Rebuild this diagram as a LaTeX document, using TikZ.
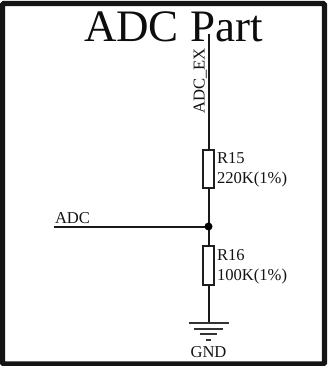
\documentclass[tikz,border=0pt]{standalone}
\usepackage{fontspec}
\setmainfont{Liberation Serif}
\tikzset{
  lbl/.style={inner sep=0pt,outer sep=0pt,text=black!92,font=\fontsize{16.6}{18}\selectfont},
  ttl/.style={inner sep=0pt,outer sep=0pt,text=black!95,font=\fontsize{45}{48}\selectfont},
  wire/.style={draw=black!90,line width=2pt},
  res/.style={draw=black!88,line width=2pt,fill=white,minimum width=11pt,inner sep=0pt,outer sep=0pt,rectangle},
  gnd/.style={draw=black!80,line width=1.9pt},
  frame/.style={draw=black!92,line width=5.4pt,rounded corners=1.5pt}
}
\begin{document}
\begin{tikzpicture}[x=1pt,y=-1pt]
\useasboundingbox (0,0) rectangle (327,366);
\fill[white] (0,0) rectangle (327,366);
\draw[frame] (2.5,3.5) rectangle (324.5,364);
\node[ttl,anchor=base west] (title) at (84,42) {ADC Part};
\coordinate (top) at (208.5,34);
\node[res,minimum height=38pt] (r15) at (208.5,169) {};
\node[res,minimum height=39pt] (r16) at (208.5,265) {};
\coordinate (adcend) at (54,226.5);
\coordinate (junction) at (208.5,226.5);
\coordinate (g1) at (208.5,323);
\draw[wire] (top) -- (r15.north);
\draw[wire] (r15.south) -- (junction);
\draw[wire] (junction) -- (r16.north);
\draw[wire] (r16.south) -- (g1);
\draw[wire,line width=2pt] (adcend) -- (junction);
\fill[black] (junction) circle (4);
\draw[gnd] (189,323) -- (228.5,323);
\draw[gnd] (194,328.7) -- (223,328.7);
\draw[gnd] (200,334.3) -- (217,334.3);
\draw[gnd] (206,340) -- (211,340);
\node[lbl,anchor=base west,rotate=90] (adcex) at (204.5,113.5) {ADC\_EX};
\node[lbl,anchor=base west] (r15a) at (217,163.5) {R15};
\node[lbl,anchor=base west] (r15b) at (217,183) {220K(1\%)};
\node[lbl,anchor=base west] (r16a) at (217,260) {R16};
\node[lbl,anchor=base west] (r16b) at (217,280) {100K(1\%)};
\node[lbl,anchor=base west] (adc) at (55,223) {ADC};
\node[lbl,anchor=base] (gndl) at (208.5,357) {GND};
\end{tikzpicture}
\end{document}
